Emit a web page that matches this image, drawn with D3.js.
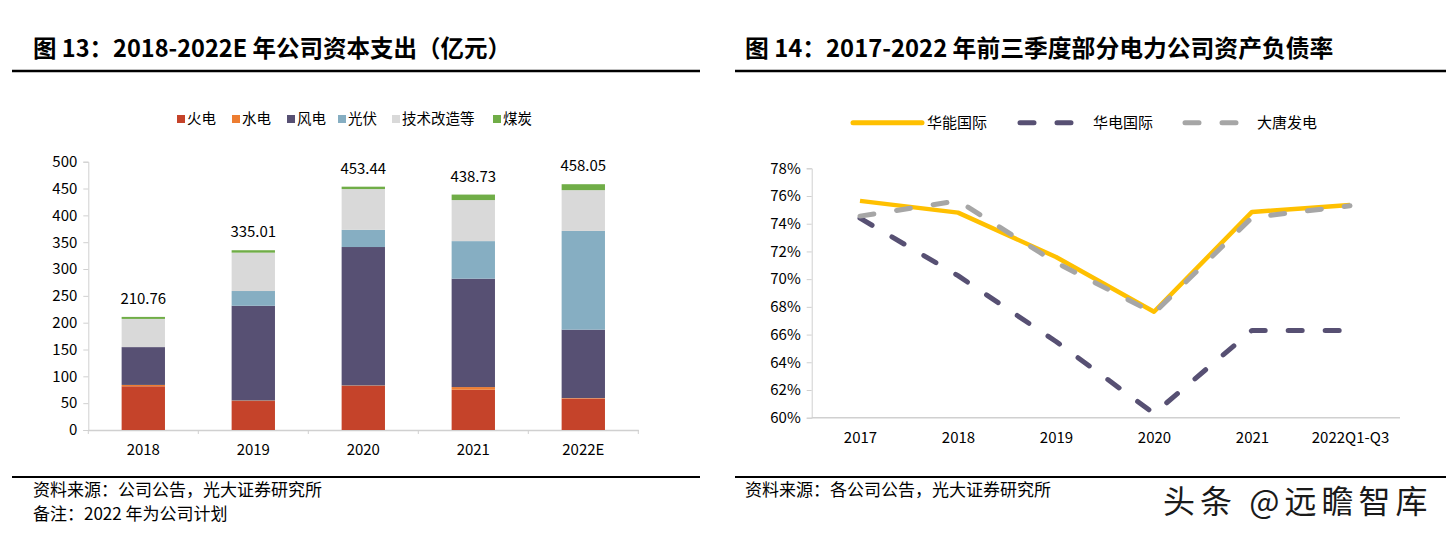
<!DOCTYPE html>
<html><head><meta charset="utf-8">
<script src="https://cdn.jsdelivr.net/npm/d3@7"></script>
<style>body{margin:0;background:#fff;} svg{display:block}</style>
</head><body>
<svg id="c" width="1446" height="539"></svg>
<script>
// ---- Left chart data (亿元) ----
const years1 = ["2018", "2019", "2020", "2021", "2022E"];
const seriesNames1 = ["火电", "水电", "风电", "光伏", "技术改造等", "煤炭"];
const fire  = [81.5, 54, 82, 75, 58.5];
const hydro = [2.5, 1, 1, 5, 1];
const wind  = [70.5, 176.5, 258, 202, 127.5];
const solar = [0, 27.5, 32, 70, 184];
const tech  = [52.5, 71.5, 76, 76.5, 76];
const coal  = [3.76, 4.51, 4.44, 10.23, 11.05];
const totals = ["210.76", "335.01", "453.44", "438.73", "458.05"];
const yTicks1 = [0, 50, 100, 150, 200, 250, 300, 350, 400, 450, 500];

// ---- Right chart data (%) ----
const years2 = ["2017", "2018", "2019", "2020", "2021", "2022Q1-Q3"];
const lineNames2 = ["华能国际", "华电国际", "大唐发电"];
const huaneng = [75.65, 74.8, 71.6, 67.65, 74.85, 75.35];
const huadian = [74.4, 70.25, 65.5, 60.3, 66.3, 66.3];
const datang  = [74.55, 75.65, 71.2, 67.55, 74.45, 75.3];
const yTicks2 = [60, 62, 64, 66, 68, 70, 72, 74, 76, 78];

const FONT = "'Noto Sans CJK SC', 'Noto Sans', sans-serif";
const svg = d3.select("#c");

// ===== Titles and rules =====
svg.append("text").attr("x", 33).attr("y", 57).attr("font-family", FONT)
  .attr("font-size", 23.5).attr("font-weight", "bold").attr("fill", "#000")
  .text("图 13：2018-2022E 年公司资本支出（亿元）");
svg.append("text").attr("x", 745).attr("y", 57).attr("font-family", FONT)
  .attr("font-size", 23.8).attr("font-weight", "bold").attr("fill", "#000")
  .text("图 14：2017-2022 年前三季度部分电力公司资产负债率");
[[12, 700], [735, 1446]].forEach(([a, b]) => {
  svg.append("line").attr("x1", a).attr("x2", b).attr("y1", 71).attr("y2", 71)
    .attr("stroke", "#000").attr("stroke-width", 2.5);
  svg.append("line").attr("x1", a).attr("x2", b).attr("y1", 477).attr("y2", 477)
    .attr("stroke", "#000").attr("stroke-width", 2);
});
svg.append("text").attr("x", 33).attr("y", 496).attr("font-family", FONT)
  .attr("font-size", 17).attr("fill", "#000").text("资料来源：公司公告，光大证券研究所");
svg.append("text").attr("x", 33).attr("y", 520).attr("font-family", FONT)
  .attr("font-size", 17).attr("fill", "#000").text("备注：2022 年为公司计划");
svg.append("text").attr("x", 745).attr("y", 496).attr("font-family", FONT)
  .attr("font-size", 17).attr("fill", "#000").text("资料来源：各公司公告，光大证券研究所");
svg.append("text").attr("x", 1163).attr("y", 513).attr("font-family", FONT)
  .attr("font-size", 32).attr("letter-spacing", 5).attr("fill", "#1a1a1a")
  .attr("stroke", "#fff").attr("stroke-width", 1.5).attr("paint-order", "stroke")
  .text("头条 @远瞻智库");

// ===== Left chart =====
const colors1 = ["#C5432A", "#ED7D31", "#575073", "#86AEC2", "#D9D9D9", "#70AD47"];
const seriesData1 = [fire, hydro, wind, solar, tech, coal];
const x1 = d3.scaleBand().domain(years1).range([88.3, 638.3]).paddingInner(0.606).paddingOuter(0.303);
const y1 = d3.scaleLinear().domain([0, 500]).range([430, 161.7]);

const rows = years1.map((yr, i) => {
  const o = { year: yr };
  seriesNames1.forEach((s, k) => o[s] = seriesData1[k][i]);
  return o;
});
const stacked = d3.stack().keys(seriesNames1)(rows);

const gL = svg.append("g");
const yAx1 = gL.append("g").attr("transform", "translate(88.3,0)")
  .call(d3.axisLeft(y1).tickValues(yTicks1).tickSize(5).tickPadding(6));
yAx1.select(".domain").attr("stroke", "#D0D0D0");
yAx1.selectAll(".tick line").attr("stroke", "#D0D0D0");
yAx1.selectAll("text").attr("font-family", FONT).attr("font-size", 15).attr("fill", "#000");

const xAx1 = gL.append("g").attr("transform", "translate(0,430)")
  .call(d3.axisBottom(x1).tickSize(0).tickPadding(14));
xAx1.select(".domain").attr("stroke", "#D0D0D0").attr("stroke-width", 1.5);
xAx1.selectAll("text").attr("font-family", FONT).attr("font-size", 15).attr("fill", "#000");
const bounds = years1.map(d => x1(d) - x1.step() * x1.paddingInner() / 2).concat([x1.range()[1]]);
gL.selectAll(".bt").data(bounds).join("line")
  .attr("x1", d => d).attr("x2", d => d).attr("y1", 430).attr("y2", 434)
  .attr("stroke", "#D0D0D0");

gL.selectAll(".layer").data(stacked).join("g")
  .attr("fill", (d, i) => colors1[i])
  .selectAll("rect").data(d => d).join("rect")
  .attr("x", d => x1(d.data.year)).attr("width", x1.bandwidth())
  .attr("y", d => y1(d[1])).attr("height", d => Math.max(0, y1(d[0]) - y1(d[1])));

gL.selectAll(".tot").data(years1).join("text")
  .attr("x", d => x1(d) + x1.bandwidth() / 2)
  .attr("y", (d, i) => y1(+totals[i]) - 13)
  .attr("text-anchor", "middle").attr("font-family", FONT).attr("font-size", 15)
  .text((d, i) => totals[i]);

const legX = [177, 232, 287, 338, 392, 493];
const lg1 = gL.selectAll(".lg").data(seriesNames1).join("g")
  .attr("transform", (d, i) => `translate(${legX[i]},119)`);
lg1.append("rect").attr("x", 0).attr("y", -4).attr("width", 8).attr("height", 8)
  .attr("fill", (d, i) => colors1[i]);
lg1.append("text").attr("x", 10).attr("y", 5).attr("font-family", FONT).attr("font-size", 14.5)
  .text(d => d);

// ===== Right chart =====
const x2 = d3.scalePoint().domain(years2).range([811, 1399]).padding(0.5);
const y2 = d3.scaleLinear().domain([60, 78]).range([417.7, 168.3]);
const gR = svg.append("g");
const yAx2 = gR.append("g").attr("transform", "translate(811.7,0)")
  .call(d3.axisLeft(y2).tickValues(yTicks2).tickSize(5).tickPadding(6).tickFormat(d => d + "%"));
yAx2.select(".domain").attr("stroke", "#D0D0D0");
yAx2.selectAll(".tick line").attr("stroke", "#D0D0D0");
yAx2.selectAll("text").attr("font-family", FONT).attr("font-size", 15).attr("fill", "#000");
const xAx2 = gR.append("g").attr("transform", "translate(0,417.7)")
  .call(d3.axisBottom(x2).tickSize(0).tickPadding(15));
xAx2.select(".domain").attr("d", "M811.7,0H1400").attr("stroke", "#D0D0D0").attr("stroke-width", 1.5);
xAx2.selectAll("text").attr("font-family", FONT).attr("font-size", 15).attr("fill", "#000");

const lineGen = d3.line().x((d, i) => x2(years2[i])).y(d => y2(d));
const styles = [
  { data: huaneng, color: "#FFC000", w: 4.5, dash: null, cap: "butt" },
  { data: huadian, color: "#575073", w: 5, dash: "14,23", cap: "round" },
  { data: datang, color: "#A6A6A6", w: 5, dash: "14,23", cap: "round" }
];
styles.forEach(s => {
  gR.append("path").datum(s.data).attr("d", lineGen).attr("fill", "none")
    .attr("stroke", s.color).attr("stroke-width", s.w)
    .attr("stroke-linecap", s.cap).attr("stroke-linejoin", "round")
    .attr("stroke-dasharray", s.dash);
});

const leg2 = [
  { name: lineNames2[0], color: "#FFC000", x: 853, dash: null, cap: "round", tx: 927 },
  { name: lineNames2[1], color: "#575073", x: 1020, dash: "14,23", cap: "round", tx: 1093 },
  { name: lineNames2[2], color: "#A6A6A6", x: 1185, dash: "14,23", cap: "round", tx: 1257 }
];
leg2.forEach(l => {
  gR.append("line").attr("x1", l.x).attr("x2", l.dash ? l.x + 52 : l.x + 69)
    .attr("y1", 122.7).attr("y2", 122.7).attr("stroke", l.color).attr("stroke-width", 5)
    .attr("stroke-linecap", l.cap).attr("stroke-dasharray", l.dash);
  gR.append("text").attr("x", l.tx).attr("y", 128).attr("font-family", FONT).attr("font-size", 15)
    .text(l.name);
});
</script>
</body></html>
